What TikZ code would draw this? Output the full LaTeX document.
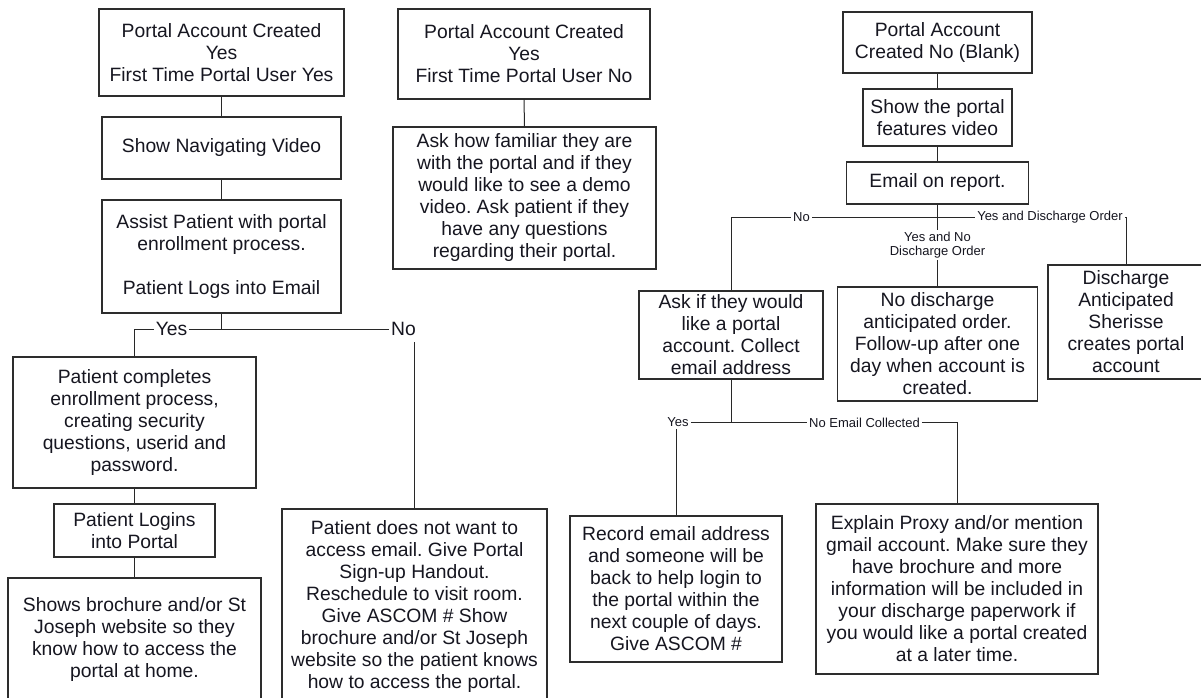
\documentclass[tikz,border=0pt]{standalone}
\usepackage{fontspec}
\setmainfont{Liberation Sans}
\frenchspacing
\definecolor{txt}{RGB}{22,22,32}
\definecolor{boxc}{RGB}{45,45,45}
\definecolor{linec}{RGB}{40,40,40}
\tikzset{
  box/.style={draw=boxc, line width=1.1pt, align=center, inner sep=0pt, text=txt,
    font=\fontsize{19.3}{22}\selectfont\frenchspacing},
  lbl/.style={inner sep=1.5pt, text=txt, font=\fontsize{19.3}{22}\selectfont},
  slbl/.style={inner sep=2pt, text=txt, align=center, font=\fontsize{13}{14}\selectfont},
  conn/.style={draw=linec, line width=1pt},
}
\begin{document}
\begin{tikzpicture}[x=1pt,y=-1pt]
\useasboundingbox[fill=white] (0,0) rectangle (1201,698);

% left column
\node[box, minimum width=245, minimum height=87] (A1) at (221.5,52.5)
  {Portal Account Created\\Yes\\First Time Portal User Yes};
\node[box, minimum width=239, minimum height=62] (A2) at (221.5,148)
  {Show Navigating Video};
\node[box, minimum width=239, minimum height=113] (A3) at (221.5,256.5)
  {Assist Patient with portal\\enrollment process.\\[22pt]Patient Logs into Email};
\node[box, minimum width=243, minimum height=131] (A4) at (134.5,422.5)
  {Patient completes\\enrollment process,\\creating security\\questions, userid and\\password.};
\node[box, minimum width=161, minimum height=53] (A5) at (134.5,530.5)
  {Patient Logins\\into Portal};
\node[box, minimum width=253, minimum height=124] (A6) at (134.5,640)
  {Shows brochure and/or St\\Joseph website so they\\know how to access the\\portal at home.};
\node[box, minimum width=265, minimum height=196] (A7) at (414.5,607)
  {Patient does not want to\\access email. Give Portal\\Sign-up Handout.\\Reschedule to visit room.\\Give ASCOM \# Show\\brochure and/or St Joseph\\website so the patient knows\\how to access the portal.};

\node[lbl, fill=white] (yesL) at (171.5,329) {Yes};
\node[lbl] (noL) at (403.5,329) {No};

% middle column
\node[box, minimum width=252, minimum height=90] (B1) at (524,54)
  {Portal Account Created\\Yes\\First Time Portal User No};
\node[box, minimum width=263, minimum height=142] (B2) at (524.5,198)
  {Ask how familiar they are\\with the portal and if they\\would like to see a demo\\video. Ask patient if they\\have any questions\\regarding their portal.};

% right part
\node[box, minimum width=189, minimum height=61] (C1) at (937.5,42.5)
  {Portal Account\\Created No (Blank)};
\node[box, minimum width=149, minimum height=57] (C2) at (937.5,117.5)
  {Show the portal\\features video};
\node[box, minimum width=182, minimum height=42] (C3) at (937.5,183)
  {Email on report.};
\node[box, minimum width=184, minimum height=88] (C4) at (731,335)
  {Ask if they would\\like a portal\\account. Collect\\email address};
\node[box, minimum width=200, minimum height=114] (C5) at (937.5,344)
  {No discharge\\anticipated order.\\Follow-up after one\\day when account is\\created.};
\node[box, minimum width=156, minimum height=114] (C6) at (1126,322)
  {Discharge\\Anticipated\\Sherisse\\creates portal\\account};
\node[box, minimum width=212, minimum height=146] (C7) at (676,589)
  {Record email address\\and someone will be\\back to help login to\\the portal within the\\next couple of days.\\Give ASCOM \#};
\node[box, minimum width=282, minimum height=170] (C8) at (957,589)
  {Explain Proxy and/or mention\\gmail account. Make sure they\\have brochure and more\\information will be included in\\your discharge paperwork if\\you would like a portal created\\at a later time.};

\node[slbl] (noR) at (801.5,217) {No};
\node[slbl] (ydoL) at (1050,217) {Yes and Discharge Order};
\node[slbl] (yndL) at (937.5,245) {Yes and No\\Discharge Order};
\node[slbl] (yesR) at (678,422.5) {Yes};
\node[slbl] (nec) at (864.5,422.5) {No Email Collected};

% connectors left
\draw[conn] (A1.south) -- (A2.north);
\draw[conn] (A2.south) -- (A3.north);
\draw[conn] (A3.south) -- (A3.south |- yesL.east);
\draw[conn] (A4.north) |- (yesL.west);
\draw[conn] (yesL.east) -- (noL.west);
\draw[conn] (A7.north) -- ([yshift=-4.5pt]A7.north |- noL.south);
\draw[conn] (A4.south) -- (A5.north);
\draw[conn] (A5.south) -- (A6.north);

% middle
\draw[conn] (B1.south) -- (B2.north);

% right
\draw[conn] (C1.south) -- (C2.north);
\draw[conn] (C2.south) -- (C3.north);
\draw[conn] (C3.south) -- (yndL.north);
\draw[conn] (yndL.south) -- (C5.north);
\draw[conn] (C4.north) |- (noR.west);
\draw[conn] (noR.east) -- (ydoL.west);
\draw[conn] (ydoL.east) -| (C6.north);
\draw[conn] (C4.south) -- (C4.south |- nec.west);
\draw[conn] (yesR.east) -- (nec.west);
\draw[conn] (nec.east) -| (C8.north);
\draw[conn] (C7.north) -- (C7.north |- yesR.south);
\end{tikzpicture}
\end{document}
